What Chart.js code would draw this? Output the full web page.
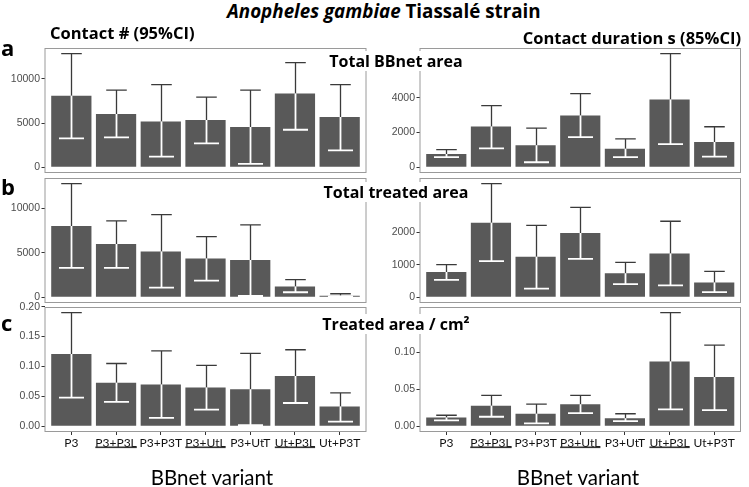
<!DOCTYPE html>
<html>
<head>
<meta charset="utf-8">
<script src="https://cdn.jsdelivr.net/npm/chart.js@4.4.1/dist/chart.umd.min.js"></script>
<style>
  html, body { margin: 0; padding: 0; background: #fff; }
  #stage { position: relative; width: 749px; height: 487px; overflow: hidden; background: #fff; }
  #stage canvas { position: absolute; }
  .txt { position: absolute; white-space: nowrap; color: #000; z-index: 5; }
  .head { font-family: "Open Sans", sans-serif; font-weight: 700; font-size: 16.5px; line-height: 20px; }
  .strip { font-family: "Open Sans", sans-serif; font-weight: 700; font-size: 16px; line-height: 20px;
           background: #fff; padding: 0 3px; left: 396px; transform: translateX(-50%); }
  .letter { font-family: "Open Sans", sans-serif; font-weight: 700; font-size: 22px; line-height: 24px; left: 1px; }
  .xtitle { font-family: Lato, sans-serif; font-size: 20.5px; line-height: 24px; transform: translateX(-50%); }
</style>
</head>
<body>
<div id="stage">
  <div class="txt head" style="left:227px; top:0px; font-size:18.8px; line-height:22px;"><i>Anopheles gambiae</i> Tiassalé strain</div>
  <div class="txt head" style="left:50px; top:23px;">Contact # (95%CI)</div>
  <div class="txt head" style="right:8px; top:28px;">Contact duration s (85%CI)</div>
  <div class="txt letter" style="top:35px;">a</div>
  <div class="txt letter" style="top:174px;">b</div>
  <div class="txt letter" style="top:310px;">c</div>
  <div class="txt strip" style="top:50.5px;">Total BBnet area</div>
  <div class="txt strip" style="top:182px;">Total treated area</div>
  <div class="txt strip" style="top:313.5px;">Treated area / cm²</div>
  <div class="txt xtitle" style="left:212px; top:465px;">BBnet variant</div>
  <div class="txt xtitle" style="left:578px; top:465px;">BBnet variant</div>
</div>
<script>
// categories
const variants = ['P3', 'P3+P3L', 'P3+P3T', 'P3+UtL', 'P3+UtT', 'Ut+P3L', 'Ut+P3T'];
const underlinedVariants = ['P3+P3L', 'P3+UtL', 'Ut+P3L'];

// a - total BBnet area
const countTotalMean = [8080, 6020, 5190, 5340, 4560, 8340, 5680];
const countTotalLow  = [3270, 3380, 1210, 2710, 380, 4250, 1920];
const countTotalHigh = [12850, 8730, 9360, 7940, 8730, 11840, 9360];
const durTotalMean = [770, 2340, 1270, 2980, 1060, 3900, 1460];
const durTotalLow  = [580, 1090, 290, 1730, 580, 1330, 620];
const durTotalHigh = [1020, 3540, 2250, 4230, 1640, 6530, 2330];

// b - total treated area
const countTreatedMean = [8040, 6000, 5170, 4380, 4190, 1210, 190];
const countTreatedLow  = [3320, 3320, 1100, 1890, 150, 570, 100];
const countTreatedHigh = [12800, 8600, 9320, 6830, 8150, 2000, 400];
const durTreatedMean = [780, 2300, 1250, 1990, 740, 1350, 460];
const durTreatedLow  = [540, 1120, 270, 1190, 410, 370, 160];
const durTreatedHigh = [1010, 3510, 2220, 2780, 1080, 2350, 800];

// c - treated area / cm2
const countCm2Mean = [0.121, 0.073, 0.070, 0.065, 0.062, 0.084, 0.033];
const countCm2Low  = [0.048, 0.041, 0.014, 0.028, 0.002, 0.039, 0.008];
const countCm2High = [0.190, 0.105, 0.126, 0.102, 0.122, 0.128, 0.056];
const durCm2Mean = [0.012, 0.028, 0.017, 0.030, 0.011, 0.088, 0.067];
const durCm2Low  = [0.008, 0.013, 0.004, 0.018, 0.007, 0.023, 0.022];
const durCm2High = [0.015, 0.042, 0.030, 0.042, 0.017, 0.154, 0.110];

// tick labels
const countTicks = [0, 5000, 10000];
const durTotalTicks = [0, 2000, 4000];
const durTreatedTicks = [0, 1000, 2000];
const countCm2Ticks = [0, 0.05, 0.10, 0.15, 0.20];
const durCm2Ticks = [0, 0.05, 0.10];

Chart.defaults.font.family = 'Liberation Sans';

const stage = document.getElementById('stage');
const colLeft = [0, 375];
const rowTop = [38, 168, 297];
const boxH = 125;
const xFont = { family: 'Lato', size: 12 };

// panel border + two-tone error bars (dark above the bar, white inside)
const errorBars = {
  id: 'errorBars',
  afterDatasetsDraw(chart, args, o) {
    const { ctx, chartArea: a, scales: { x, y } } = chart;
    const mean = chart.data.datasets[0].data;
    const unit = x.getPixelForValue(1) - x.getPixelForValue(0);
    ctx.save();
    ctx.strokeStyle = '#9a9a9a';
    ctx.lineWidth = 1;
    ctx.strokeRect(a.left + 0.5, a.top + 0.5, a.width - 1, a.height - 1);
    mean.forEach((d, i) => {
      const px = Math.round(x.getPixelForValue(d.x)) + 0.5;
      const pv = y.getPixelForValue(d.y);
      const ph = y.getPixelForValue(o.high[i]);
      const pl = y.getPixelForValue(o.low[i]);
      ctx.strokeStyle = '#3a3a3a';
      ctx.lineWidth = 1.3;
      ctx.beginPath();
      ctx.moveTo(px, pv); ctx.lineTo(px, ph);
      ctx.moveTo(px - unit * 0.23, ph); ctx.lineTo(px + unit * 0.23, ph);
      ctx.stroke();
      ctx.strokeStyle = '#ffffff';
      ctx.lineWidth = 1.8;
      ctx.beginPath();
      ctx.moveTo(px, pl); ctx.lineTo(px, pv);
      ctx.moveTo(px - unit * 0.28, pl); ctx.lineTo(px + unit * 0.28, pl);
      ctx.stroke();
    });
    ctx.restore();
  },
  afterDraw(chart, args, o) {
    if (!o.underline) return;
    const { ctx, chartArea: a, scales: { x } } = chart;
    ctx.save();
    ctx.font = xFont.size + 'px ' + xFont.family;
    ctx.fillStyle = '#333';
    variants.forEach((v, i) => {
      if (!underlinedVariants.includes(v)) return;
      const w = ctx.measureText(v).width;
      const px = x.getPixelForValue(i);
      ctx.fillRect(px - w / 2, a.bottom + 14.5, w, 1.6);
    });
    ctx.restore();
  }
};

function drawPanel(p) {
  const bottom = p.row === 2;
  const cv = document.createElement('canvas');
  cv.width = 372;
  cv.height = 10 + boxH + (bottom ? 36 : 10);
  cv.style.left = colLeft[p.col] + 'px';
  cv.style.top = rowTop[p.row] + 'px';
  stage.appendChild(cv);

  const top = Math.max(...p.high);
  new Chart(cv, {
    type: 'bar',
    data: {
      datasets: [{
        data: p.mean.map((v, i) => ({ x: i, y: v })),
        backgroundColor: '#595959',
        categoryPercentage: 1,
        barPercentage: 0.9
      }]
    },
    options: {
      responsive: false,
      animation: false,
      layout: { padding: { left: 0, right: p.col ? 6 : 5.5, top: 10, bottom: bottom ? 14 : 10 } },
      plugins: {
        legend: { display: false },
        tooltip: { enabled: false },
        errorBars: { low: p.low, high: p.high, underline: bottom }
      },
      scales: {
        x: {
          type: 'linear',
          offset: false,
          min: -0.6,
          max: variants.length - 0.4,
          display: bottom,
          border: { display: false },
          grid: { offset: false, drawOnChartArea: false, tickLength: 3, color: '#333' },
          ticks: {
            color: '#111', font: xFont, padding: 1, maxRotation: 0, autoSkip: false,
            callback: v => variants[v]
          },
          afterBuildTicks: s => { s.ticks = variants.map((v, i) => ({ value: i })); },
          afterFit: s => { s.height = bottom ? 22 : 0; }
        },
        y: {
          min: -top * 0.05,
          max: top * 1.05,
          border: { display: false },
          grid: { drawOnChartArea: false, tickLength: 3, color: '#333' },
          ticks: {
            color: '#4d4d4d', font: { size: 10.5 }, padding: 1.5,
            callback: v => p.decimals ? v.toFixed(2) : String(v)
          },
          afterBuildTicks: s => { s.ticks = p.ticks.map(v => ({ value: v })); },
          afterFit: s => { s.width = 44.5; }
        }
      }
    },
    plugins: [errorBars]
  });
}

[
  { col: 0, row: 0, mean: countTotalMean, low: countTotalLow, high: countTotalHigh, ticks: countTicks },
  { col: 1, row: 0, mean: durTotalMean, low: durTotalLow, high: durTotalHigh, ticks: durTotalTicks },
  { col: 0, row: 1, mean: countTreatedMean, low: countTreatedLow, high: countTreatedHigh, ticks: countTicks },
  { col: 1, row: 1, mean: durTreatedMean, low: durTreatedLow, high: durTreatedHigh, ticks: durTreatedTicks },
  { col: 0, row: 2, mean: countCm2Mean, low: countCm2Low, high: countCm2High, ticks: countCm2Ticks, decimals: true },
  { col: 1, row: 2, mean: durCm2Mean, low: durCm2Low, high: durCm2High, ticks: durCm2Ticks, decimals: true }
].forEach(drawPanel);
</script>
</body>
</html>
